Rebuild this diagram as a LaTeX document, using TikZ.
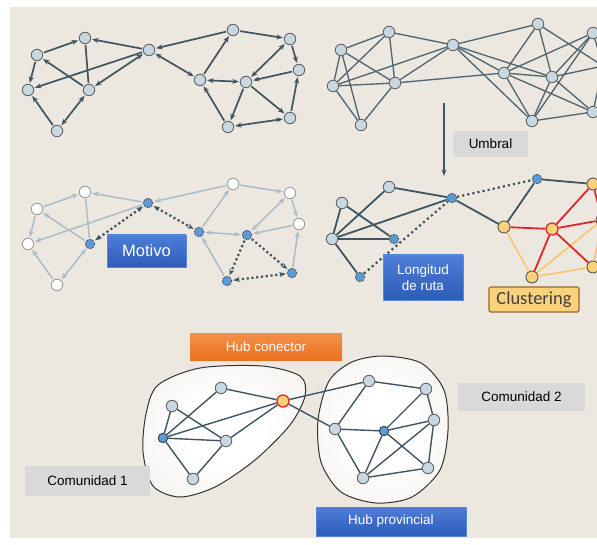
\documentclass[tikz,border=0pt]{standalone}
\usepackage{fontspec}
\setmainfont{Liberation Sans}
\newfontfamily\clfont{Carlito}
\usetikzlibrary{arrows.meta}
\definecolor{bgc}{HTML}{EDE8DF}
\definecolor{edgec}{HTML}{3E5662}
\definecolor{nodec}{HTML}{C8D8E2}
\definecolor{lightc}{HTML}{A9BCC7}
\definecolor{motc}{HTML}{5B9BD8}
\definecolor{yelc}{HTML}{F9D27A}
\definecolor{redc}{HTML}{E3262B}
\definecolor{orac}{HTML}{F7C56C}
\definecolor{boxgrey}{HTML}{D9D9D9}
\definecolor{bluetop}{HTML}{4C7ED8}
\definecolor{bluebot}{HTML}{2E5CB8}
\definecolor{blueline}{HTML}{5C88D2}
\definecolor{oratop}{HTML}{F3914A}
\definecolor{orabot}{HTML}{EB711F}
\pgfdeclareradialshading{blobshade}{\pgfpoint{0bp}{0bp}}{color(0bp)=(white);color(12bp)=(white);color(50bp)=(bgc)}
\tikzset{
  netnode/.style={circle,draw=black!60,fill=nodec,line width=0.9pt,minimum size=11.5pt,inner sep=0pt},
  wnode/.style={circle,draw=black!40,fill=white,line width=0.8pt,minimum size=11.5pt,inner sep=0pt},
  bnode/.style={circle,draw=black!75,densely dotted,fill=motc,line width=0.9pt,minimum size=9.5pt,inner sep=0pt},
  ynode/.style={circle,draw=black!65,fill=yelc,line width=0.9pt,minimum size=12pt,inner sep=0pt},
  dedge/.style={draw=edgec,line width=1.7pt,shorten >=1pt,shorten <=1pt},
  ledge/.style={draw=lightc,line width=1.5pt,shorten >=1pt,shorten <=1pt},
  medge/.style={draw=edgec,line width=2.2pt,dash pattern=on 2.2pt off 2.6pt,shorten >=1pt,shorten <=1pt},
  uedge/.style={draw=edgec!90,line width=1.35pt},
  cedge/.style={draw=edgec,line width=1.4pt},
  greybox/.style={fill=boxgrey,inner sep=0pt,text=black},
  bluebox/.style={top color=bluetop,bottom color=bluebot,draw=blueline,inner sep=0pt,text=white},
  orangebox/.style={top color=oratop,bottom color=orabot,inner sep=0pt,text=white}
}
\begin{document}
\begin{tikzpicture}[x=1pt,y=-1pt,line join=round,>={Stealth[length=6.5pt,width=5pt]},font=\fontsize{13.5}{16}\selectfont]
\useasboundingbox (0,0) rectangle (597,545);
\clip (0,0) rectangle (597,545);
\fill[bgc] (10,7) rectangle (597,538);

% directed network
\foreach \n/\x/\y in {a1/37/55,a2/85/38,a3/28/90,a4/89/90,a5/57/131,c/149/50,b1/233/30,b2/290/39,b3/299/70,b4/200/80,b5/246/82,b6/290/118,b7/228/127}
  \node[netnode] (p\n) at (\x,\y) {};
\foreach \u/\v in {a1/a2,a1/a3,a4/a1,c/a2,c/a3,a5/a3,b1/c,b4/b1,b1/b2,b2/b3,b3/b5,b5/b7,b5/b6,b7/b4,b6/b3}
  \draw[dedge,->] (p\u) -- (p\v);
\foreach \u/\v in {c/a4,a5/a4,c/b4,b2/b5,b4/b5,b7/b6}
  \draw[dedge,<->] (p\u) -- (p\v);
\draw[dedge] (pa2) -- (pa4);

% thresholded network
\foreach \n/\x/\y in {d1/341/50,d2/389/32,d3/333/86,d4/395/83,d5/361/125,e/453/45,f1/538/24,f2/593/33,f3/504/73,f4/552/77,f5/532/121,f6/593/112,f7/603/66}
  \node[netnode] (t\n) at (\x,\y) {};
\foreach \u/\v in {d1/d2,d1/d3,d1/d4,d1/d5,d2/d3,d2/d4,d2/e,d3/d4,d3/e,d3/d5,d4/d5,d4/e,d4/f3,e/f1,e/f3,e/f4,e/f5,f1/f3,f1/f4,f1/f7,f2/f3,f2/f4,f2/f5,f3/f4,f3/f5,f3/f6,f4/f5,f4/f6,f4/f7,f5/f6,f2/f7,f6/f7}
  \draw[uedge] (t\u) -- (t\v);

\coordinate (ua) at (444,103);
\coordinate (ub) at (444,176);
\draw[line width=1.4pt,edgec,->] (ua) -- (ub);
\node[greybox,minimum width=75pt,minimum height=26pt] (umbral) at (490.5,144) {Umbral};

% motif
\foreach \n/\x/\y in {a1/37/55,a2/85/38,a3/28/90,a5/57/131,b1/233/30,b2/290/39,b3/299/70}
  \node[wnode] (m\n) at (\x,\y+154) {};
\foreach \n/\x/\y in {a4/90/90,c/148/49,b4/199/78,b5/247/81,b6/292/119,b7/227/127}
  \node[bnode] (m\n) at (\x,\y+154) {};
\foreach \u/\v in {a1/a2,a1/a3,a4/a1,c/a2,c/a3,a5/a3,b1/c,b4/b1,b1/b2,b2/b3,b3/b5,b7/b4,b6/b3}
  \draw[ledge,->] (m\u) -- (m\v);
\foreach \u/\v in {a5/a4,b2/b5,b4/b5}
  \draw[ledge,<->] (m\u) -- (m\v);
\draw[ledge] (ma2) -- (ma4);
\foreach \u/\v in {c/a4,c/b4,b7/b6}
  \draw[medge,<->] (m\u) -- (m\v);
\foreach \u/\v in {b5/b7,b5/b6}
  \draw[medge,->] (m\u) -- (m\v);
\node[bluebox,minimum width=79pt,minimum height=32pt,font=\fontsize{16.5}{18}\selectfont] (motivo) at (146.5,251) {Motivo};

% path length and clustering
\foreach \n/\x/\y in {g1/389/187,g2/342/203,g3/332/239}
  \node[netnode] (r\n) at (\x,\y) {};
\foreach \n/\x/\y in {g4/394/239,g5/360/277,h/452/198,i1/537/179}
  \node[bnode] (r\n) at (\x,\y) {};
\foreach \n/\x/\y in {i2/593/184,i3/504/227,i5/532/277,i6/593/267,i7/602/220}
  \node[ynode] (r\n) at (\x,\y) {};
\node[ynode,draw=redc,line width=1.2pt] (ri4) at (552,229) {};
\foreach \u/\v in {g1/g3,g1/h,g2/g3,g2/g4,g3/g4,g3/h,g3/g5,h/i3,i1/i3,i1/i2}
  \draw[cedge,line width=1.8pt] (r\u) -- (r\v);
\foreach \u/\v in {g5/h,h/i1}
  \draw[edgec,line width=2.2pt,dash pattern=on 2.2pt off 3pt] (r\u) -- (r\v);
\foreach \u/\v in {i3/i5,i5/i7,i5/i6,i6/i7}
  \draw[orac,line width=1.6pt] (r\u) -- (r\v);
\foreach \u/\v in {i3/i4,i4/i2,i4/i7,i4/i5,i4/i6,i2/i7}
  \draw[redc,line width=1.8pt] (r\u) -- (r\v);
\node[bluebox,minimum width=80pt,minimum height=45pt,align=center] (ruta) at (423,277.5) {Longitud\\de ruta};
\node[fill=yelc,draw=brown!80!black,line width=1.2pt,rounded corners=1.5pt,minimum width=90pt,minimum height=25pt,inner sep=0pt,text=black!75,font=\clfont\fontsize{18.5}{20}\selectfont] (clust) at (534,299.5) {Clustering};

% communities
\shade[shading=blobshade] plot[smooth cycle] coordinates {(158,385) (200,368) (262,366) (300,376) (305,396) (290,425) (255,460) (215,487) (180,497) (153,486) (143,452) (146,414)};
\draw[black!80,line width=1pt] plot[smooth cycle] coordinates {(158,385) (200,368) (262,366) (300,376) (305,396) (290,425) (255,460) (215,487) (180,497) (153,486) (143,452) (146,414)};
\shade[shading=blobshade] plot[smooth cycle] coordinates {(383,356) (421,363) (444,390) (448,430) (440,470) (412,497) (376,503) (341,492) (321,462) (318,420) (329,381) (352,362)};
\draw[black!80,line width=1pt] plot[smooth cycle] coordinates {(383,356) (421,363) (444,390) (448,430) (440,470) (412,497) (376,503) (341,492) (321,462) (318,420) (329,381) (352,362)};
\foreach \n/\x/\y in {j1/221/388,j2/172/406,j4/226/441,j5/193/479,l1/369/381,l2/426/389,l3/434/420,l4/335/429,l6/428/468,l7/363/478}
  \node[netnode] (\n) at (\x,\y) {};
\node[bnode,solid] (j3) at (163,438) {};
\node[bnode,solid] (l5) at (384,431) {};
\node[ynode,draw=redc,line width=1.3pt] (k) at (283,401) {};
\foreach \u/\v in {j1/j3,j1/k,j2/j3,j2/j4,j3/j4,j3/k,j3/j5,j4/k,j4/j5,k/l1,k/l4,l1/l2,l1/l4,l2/l3,l2/l5,l3/l5,l3/l6,l3/l7,l4/l5,l4/l7,l5/l6,l5/l7,l6/l7}
  \draw[cedge] (\u) -- (\v);
\node[orangebox,minimum width=152pt,minimum height=27pt] (conector) at (266,346.5) {Hub conector};
\node[bluebox,minimum width=150pt,minimum height=29pt] (provincial) at (391,521.5) {Hub provincial};
\node[greybox,minimum width=125pt,minimum height=30pt] (com1) at (87.5,481) {Comunidad 1};
\node[greybox,minimum width=127pt,minimum height=28pt] (com2) at (521.5,397) {Comunidad 2};
\end{tikzpicture}
\end{document}
